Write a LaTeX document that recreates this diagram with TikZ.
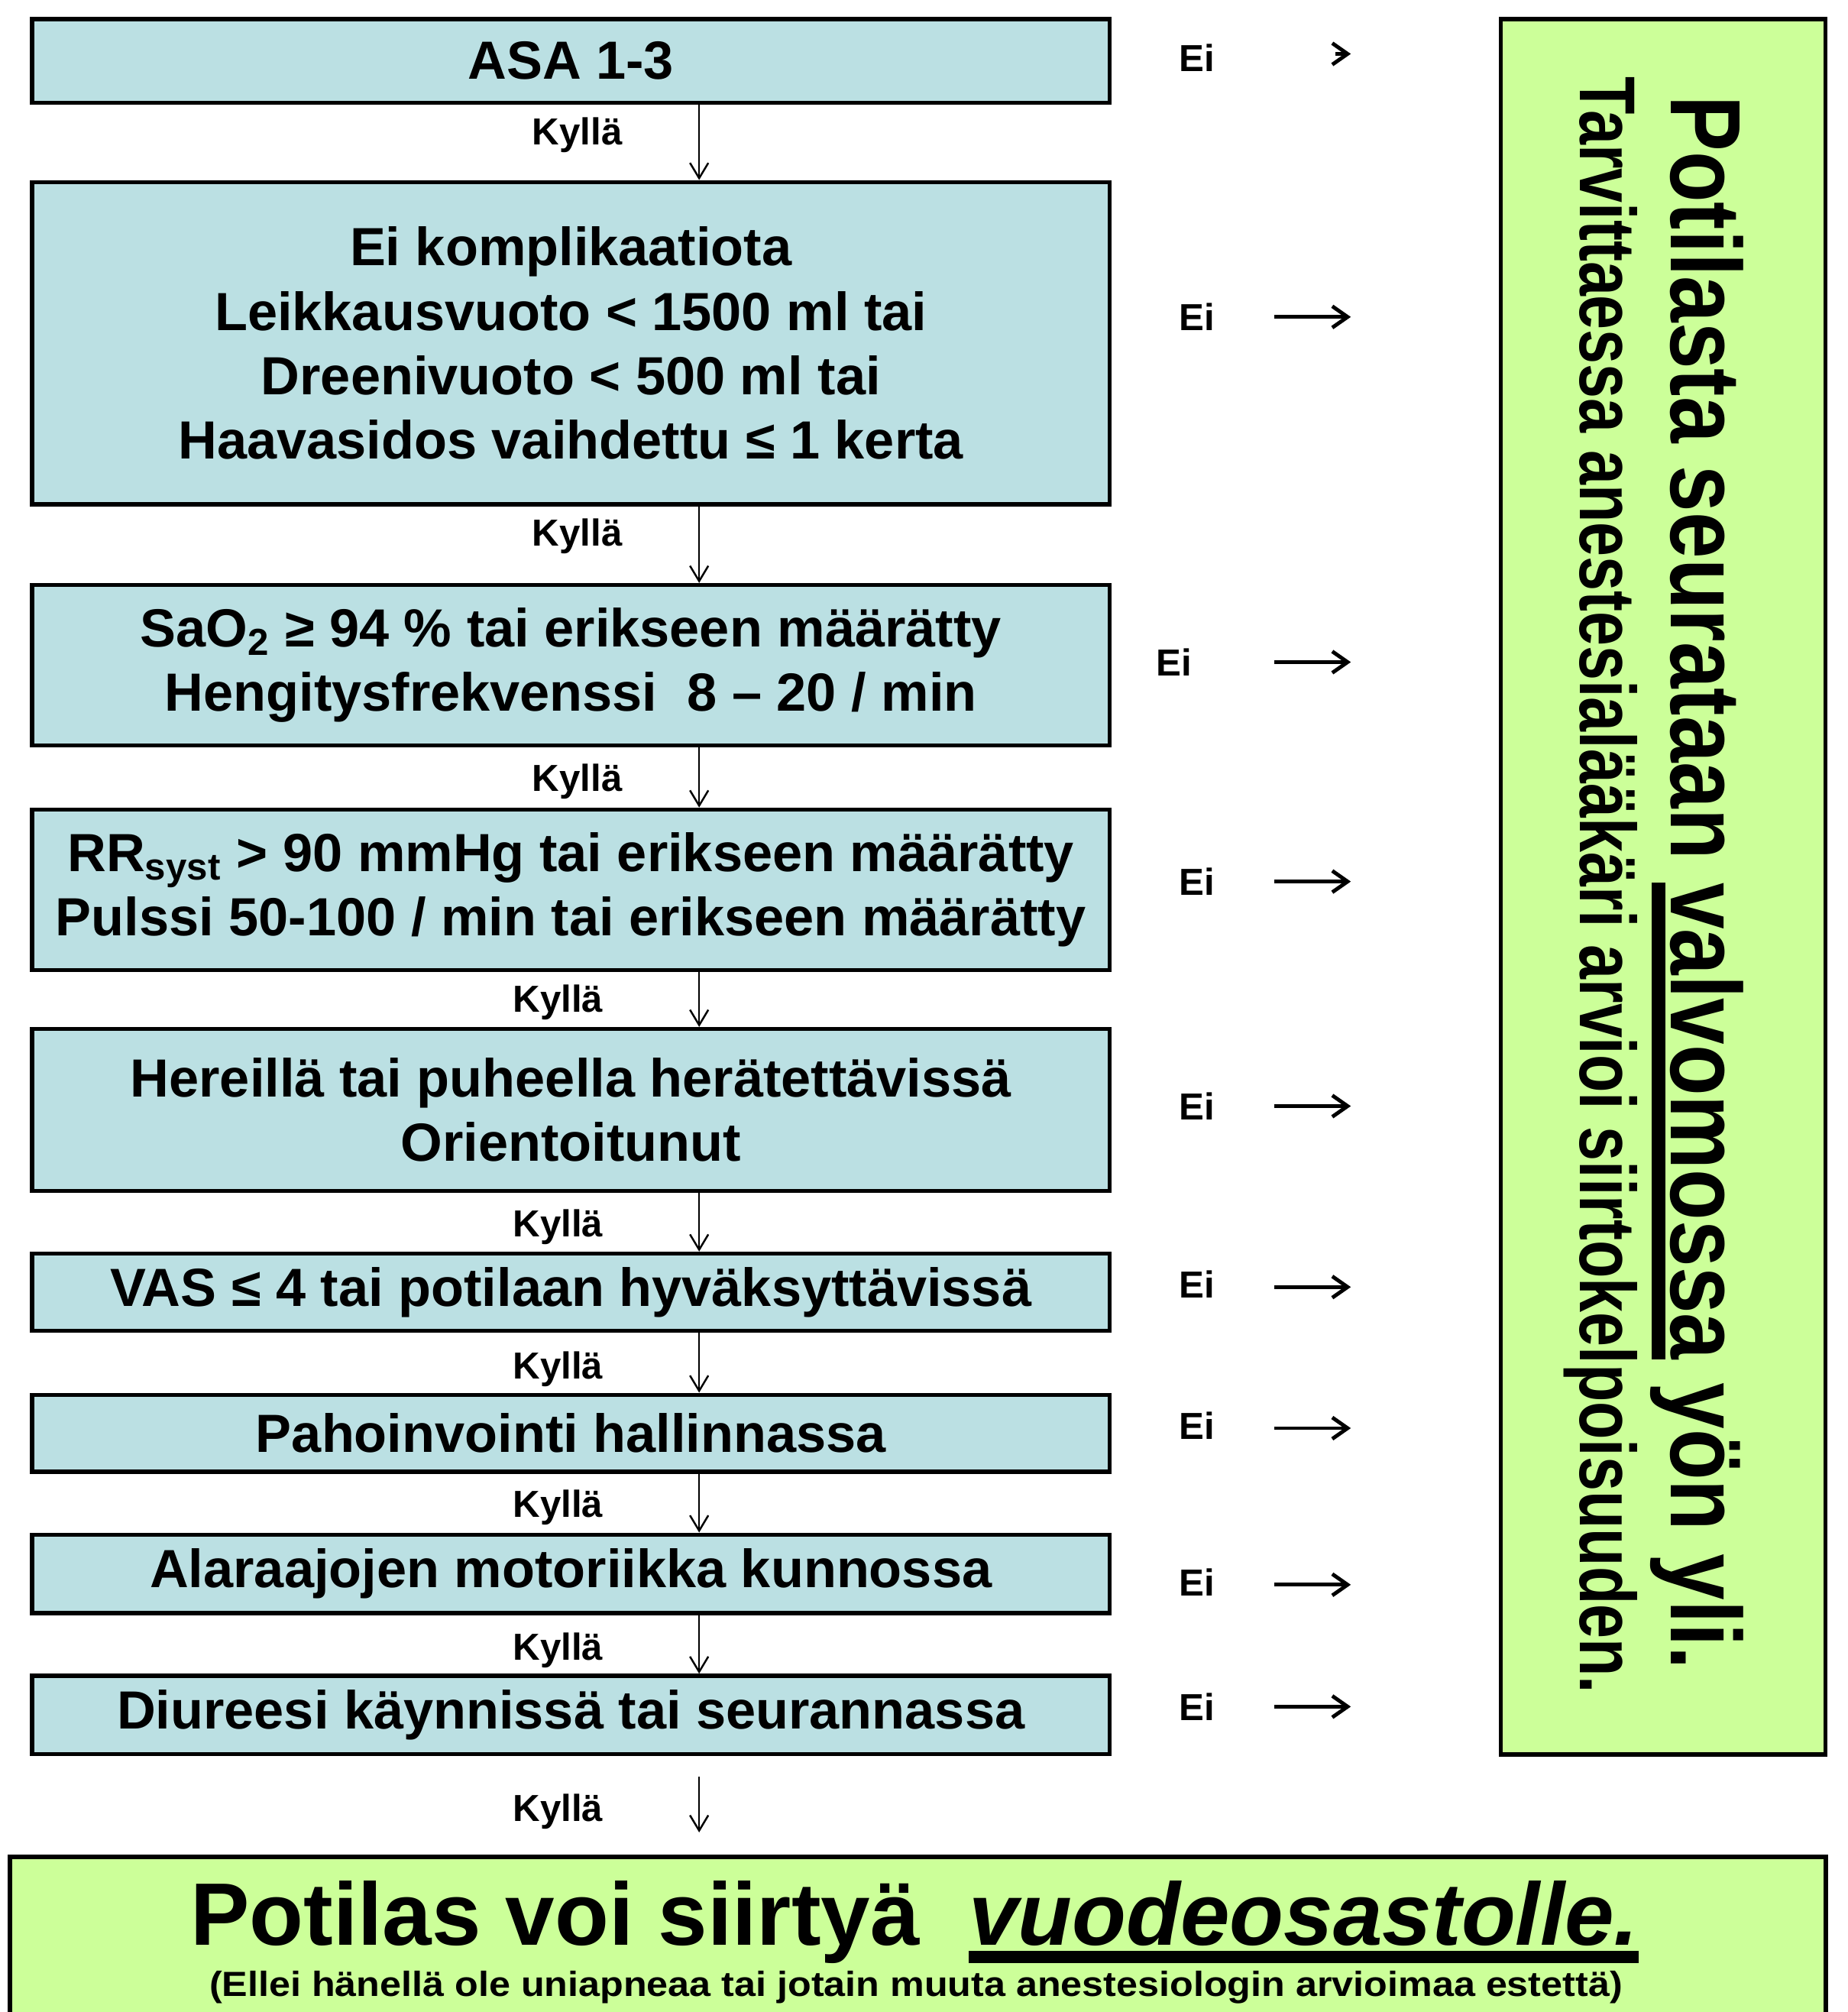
\documentclass[tikz,border=0pt]{standalone}
\usepackage{fontspec}
\setmainfont{Liberation Sans}
\usetikzlibrary{arrows.meta, positioning}
\definecolor{critblue}{RGB}{187,224,227}
\definecolor{okgreen}{RGB}{204,255,153}
\newcommand{\fatul}[1]{\setbox0=\hbox{#1}\rlap{\rule[-0.2em]{\wd0}{0.14em}}\box0\relax}
\tikzset{
    critbox/.style={rectangle, draw=black, line width=1.6pt, fill=critblue, minimum width=14.1cm, inner sep=0pt, align=center, font=\fontsize{20}{24}\selectfont\bfseries},
    resultbox/.style={rectangle, draw=black, line width=1.6pt, fill=okgreen, inner sep=0pt},
    yeslbl/.style={font=\fontsize{14}{16}\selectfont\bfseries, inner sep=0pt},
    nolbl/.style={font=\fontsize{14}{16}\selectfont\bfseries, inner sep=0pt},
    downarrow/.style={-{Straight Barb[length=2mm, width=2.4mm]}, line width=0.7pt},
    noarrow/.style={-{Straight Barb[length=2mm, width=2.8mm]}, line width=1.4pt},
}

\begin{document}
\begin{tikzpicture}[x=0.01679cm, y=-0.01679cm]
\useasboundingbox (0,0) rectangle (1440,1568);

% Criteria column
\node[critbox, minimum height=1.091cm] (b1) at (445,47.5) {ASA 1-3};
\node[critbox, minimum height=4.214cm] (b2) at (445,267.5) {Ei komplikaatiota\\Leikkausvuoto < 1500 ml tai\\Dreenivuoto < 500 ml tai\\Haavasidos vaihdettu ≤ 1 kerta};
\node[critbox, minimum height=2.099cm] (b3) at (445,518.5) {SaO\textsubscript{2} ≥ 94 \% tai erikseen määrätty\\Hengitysfrekvenssi\ \ 8 – 20 / min};
\node[critbox, minimum height=2.099cm] (b4) at (445,693.5) {RR\textsubscript{syst} > 90 mmHg tai erikseen määrätty\\Pulssi 50-100 / min tai erikseen määrätty};
\node[critbox, minimum height=2.116cm] (b5) at (445,865) {Hereillä tai puheella herätettävissä\\Orientoitunut};
\node[critbox, minimum height=1.007cm] (b6) at (445,1007) {VAS ≤ 4 tai potilaan hyväksyttävissä};
\node[critbox, minimum height=1.007cm] (b7) at (445,1117) {Pahoinvointi hallinnassa};
\node[critbox, minimum height=1.024cm] (b8) at (445,1226.5) {Alaraajojen motoriikka kunnossa};
\node[critbox, minimum height=1.024cm] (b9) at (445,1336.5) {Diureesi käynnissä tai seurannassa};

% Outcome boxes
\node[resultbox, minimum width=4.248cm, minimum height=22.70cm] (watch) at (1296.5,691) {};
\node[rotate=-90, font=\fontsize{31}{36}\selectfont\bfseries, inner sep=0pt] (vtitle) at (1323,688) {\scalebox{1}[1.2]{Potilasta seurataan \fatul{valvomossa} yön yli.}};
\node[rotate=-90, font=\fontsize{23}{28}\selectfont\bfseries, inner sep=0pt] (vnote) at (1248,690) {\scalebox{1}[1.28]{Tarvittaessa anestesialääkäri arvioi siirtokelpoisuuden.}};

\node[resultbox, minimum width=23.76cm, minimum height=2.569cm] (ward) at (715.5,1523.5) {};
\node[font=\fontsize{33}{38}\selectfont\bfseries, anchor=base, inner sep=0pt] (wtitle) at (713,1516) {Potilas voi siirtyä\ \ \fatul{\itshape vuodeosastolle.}};
\node[font=\fontsize{13}{15}\selectfont\bfseries, anchor=base, inner sep=0pt] (wnote) at (714,1556) {\scalebox{1.1}[1]{(Ellei hänellä ole uniapneaa tai jotain muuta anestesiologin arvioimaa estettä)}};

% Kyllä arrows
\coordinate (axis) at (545,0);
\draw[downarrow] (b1.south -| axis) -- (b2.north -| axis);
\draw[downarrow] (b2.south -| axis) -- (b3.north -| axis);
\draw[downarrow] (b3.south -| axis) -- (b4.north -| axis);
\draw[downarrow] (b4.south -| axis) -- (b5.north -| axis);
\draw[downarrow] (b5.south -| axis) -- (b6.north -| axis);
\draw[downarrow] (b6.south -| axis) -- (b7.north -| axis);
\draw[downarrow] (b7.south -| axis) -- (b8.north -| axis);
\draw[downarrow] (b8.south -| axis) -- (b9.north -| axis);
\draw[downarrow] ([yshift=-0.27cm]b9.south -| axis) -- ([yshift=0.29cm]ward.north -| axis);

\node[yeslbl] (k1) at (450,105) {Kyllä};
\node[yeslbl] (k2) at (450,418) {Kyllä};
\node[yeslbl] (k3) at (450,609) {Kyllä};
\node[yeslbl] (k4) at (435,781) {Kyllä};
\node[yeslbl] (k5) at (435,956) {Kyllä};
\node[yeslbl] (k6) at (435,1067) {Kyllä};
\node[yeslbl] (k7) at (435,1175) {Kyllä};
\node[yeslbl] (k8) at (435,1286) {Kyllä};
\node[yeslbl] (k9) at (435,1412) {Kyllä};

% Ei arrows
\node[nolbl] (e1) at (933,45) {Ei};
\node[nolbl] (e2) at (933,247) {Ei};
\node[nolbl] (e3) at (915,516) {Ei};
\node[nolbl] (e4) at (933,687) {Ei};
\node[nolbl] (e5) at (933,862) {Ei};
\node[nolbl] (e6) at (933,1001) {Ei};
\node[nolbl] (e7) at (933,1111) {Ei};
\node[nolbl] (e8) at (933,1233) {Ei};
\node[nolbl] (e9) at (933,1330) {Ei};

\coordinate (r1) at (1053,42);
\coordinate (r2) at (1053,247);
\coordinate (r3) at (1053,516);
\coordinate (r4) at (1053,687);
\coordinate (r5) at (1053,862);
\coordinate (r6) at (1053,1003);
\coordinate (r7) at (1053,1113);
\coordinate (r8) at (1053,1235);
\coordinate (r9) at (1053,1330);
\draw[noarrow] ([xshift=-0.2cm]r1) -- (r1);
\draw[noarrow] ([xshift=-1.0cm]r2) -- (r2);
\draw[noarrow] ([xshift=-1.0cm]r3) -- (r3);
\draw[noarrow] ([xshift=-1.0cm]r4) -- (r4);
\draw[noarrow] ([xshift=-1.0cm]r5) -- (r5);
\draw[noarrow] ([xshift=-1.0cm]r6) -- (r6);
\draw[noarrow] ([xshift=-1.0cm]r7) -- (r7);
\draw[noarrow] ([xshift=-1.0cm]r8) -- (r8);
\draw[noarrow] ([xshift=-1.0cm]r9) -- (r9);

\end{tikzpicture}
\end{document}
